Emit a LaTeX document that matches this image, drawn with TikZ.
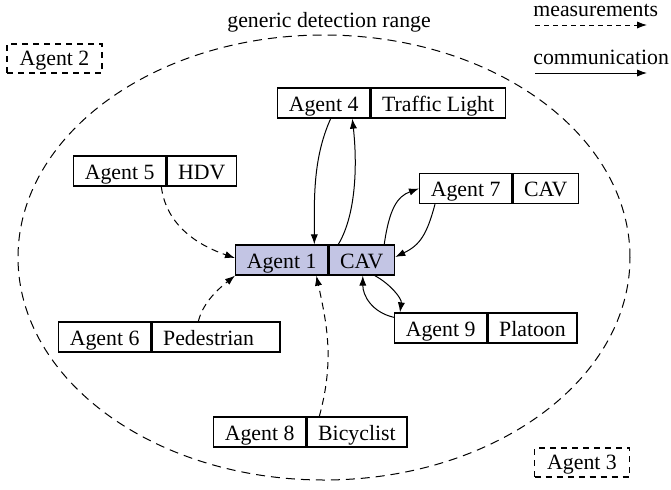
\documentclass[tikz,border=0pt]{standalone}
\usepackage{fontspec}
\setmainfont{Liberation Serif}
\usetikzlibrary{arrows.meta}
\definecolor{egofill}{RGB}{195,197,228}
\begin{document}
\begin{tikzpicture}[x=0.5pt,y=-0.5pt,
  font=\fontsize{10.9}{13}\selectfont,
  cell/.style={draw, line width=0.65pt, minimum height=15pt, inner xsep=5.6pt, inner ysep=0pt, text height=10.6pt, text depth=2.4pt, anchor=west},
  outside/.style={draw, line width=0.65pt, dash pattern=on 3pt off 2.5pt, minimum height=14.5pt, minimum width=47.5pt, inner ysep=0pt, text height=10.2pt, text depth=2.8pt},
  meas/.style={line width=0.5pt, dash pattern=on 3.5pt off 2.5pt, -{Latex[length=5pt,width=3.6pt]}},
  comm/.style={line width=0.5pt, -{Latex[length=5pt,width=3.6pt]}},
  legmeas/.style={line width=0.5pt, dash pattern=on 2.5pt off 2pt, -{Latex[length=5pt,width=3.6pt]}}
]
\useasboundingbox (0,0) rectangle (671,489);

% detection range
\draw[line width=0.5pt, dash pattern=on 4.5pt off 3pt] (324,257.5) ellipse [x radius=153pt, y radius=111.25pt];
\node[anchor=west, inner sep=0pt] (range) at (227,22) {generic detection range};

% agents
\node[cell, fill=egofill] (a1l) at (235,260) {Agent 1};
\node[cell, fill=egofill] (a1r) at (a1l.east) {CAV};
\node[cell] (a4l) at (277,103) {Agent 4};
\node[cell] (a4r) at (a4l.east) {Traffic Light};
\node[cell] (a5l) at (73,171) {Agent 5};
\node[cell] (a5r) at (a5l.east) {HDV};
\node[cell] (a7l) at (419,188.5) {Agent 7};
\node[cell] (a7r) at (a7l.east) {CAV};
\node[cell] (a6l) at (58,337) {Agent 6};
\node[cell, text width=52.8pt, align=left] (a6r) at (a6l.east) {Pedestrian};
\node[cell] (a9l) at (394,328) {Agent 9};
\node[cell] (a9r) at (a9l.east) {Platoon};
\node[cell] (a8l) at (213,432) {Agent 8};
\node[cell] (a8r) at (a8l.east) {Bicyclist};

\node[outside] (a2) at (54.5,58.5) {Agent 2};
\node[outside] (a3) at (582,462.5) {Agent 3};

% measurements
\draw[meas] ([shift={(-5,0)}]a5l.south east) .. controls +(5,40) and +(-35,-12) .. ([shift={(0,-2)}]a1l.west);
\draw[meas] ([shift={(47,0)}]a6r.north west) .. controls +(5,-20) and +(-15,12) .. (a1l.south west);
\draw[meas] ([shift={(13,0)}]a8r.north west) .. controls +(15,-55) and +(11,50) .. ([shift={(-12,0)}]a1l.south east);

% communication
\draw[comm] ([shift={(7,0)}]a4l.south) .. controls +(-18,40) and +(0,-45) .. ([shift={(-14,0)}]a1l.north east);
\draw[comm] ([shift={(10,0)}]a1r.north west) .. controls +(18,-30) and +(5,45) .. ([shift={(-18,0)}]a4l.south east);
\draw[comm] ([shift={(-11,0)}]a1r.north east) .. controls +(5,-35) and +(-22,8) .. (a7l.west);
\draw[comm] ([shift={(16,0)}]a7l.south west) .. controls +(-8,30) and +(25,-12) .. ([shift={(0,-3)}]a1r.east);
\draw[comm] ([shift={(0,5)}]a9l.north west) .. controls +(-22,-5) and +(0,20) .. ([shift={(1,0)}]a1r.south);
\draw[comm] ([shift={(13,0)}]a1r.south) .. controls +(15,8) and +(2,-14) .. ([shift={(6,0)}]a9l.north west);

% legend
\node[anchor=west, inner sep=0pt] (lmeas) at (533,10) {measurements};
\coordinate (lm1) at (535,25);
\coordinate (lm2) at (647,25);
\draw[legmeas] (lm1) -- (lm2);
\node[anchor=west, inner sep=0pt] (lcomm) at (533,57) {communication};
\coordinate (lc1) at (535,73);
\coordinate (lc2) at (647,73);
\draw[comm] (lc1) -- (lc2);
\end{tikzpicture}
\end{document}
